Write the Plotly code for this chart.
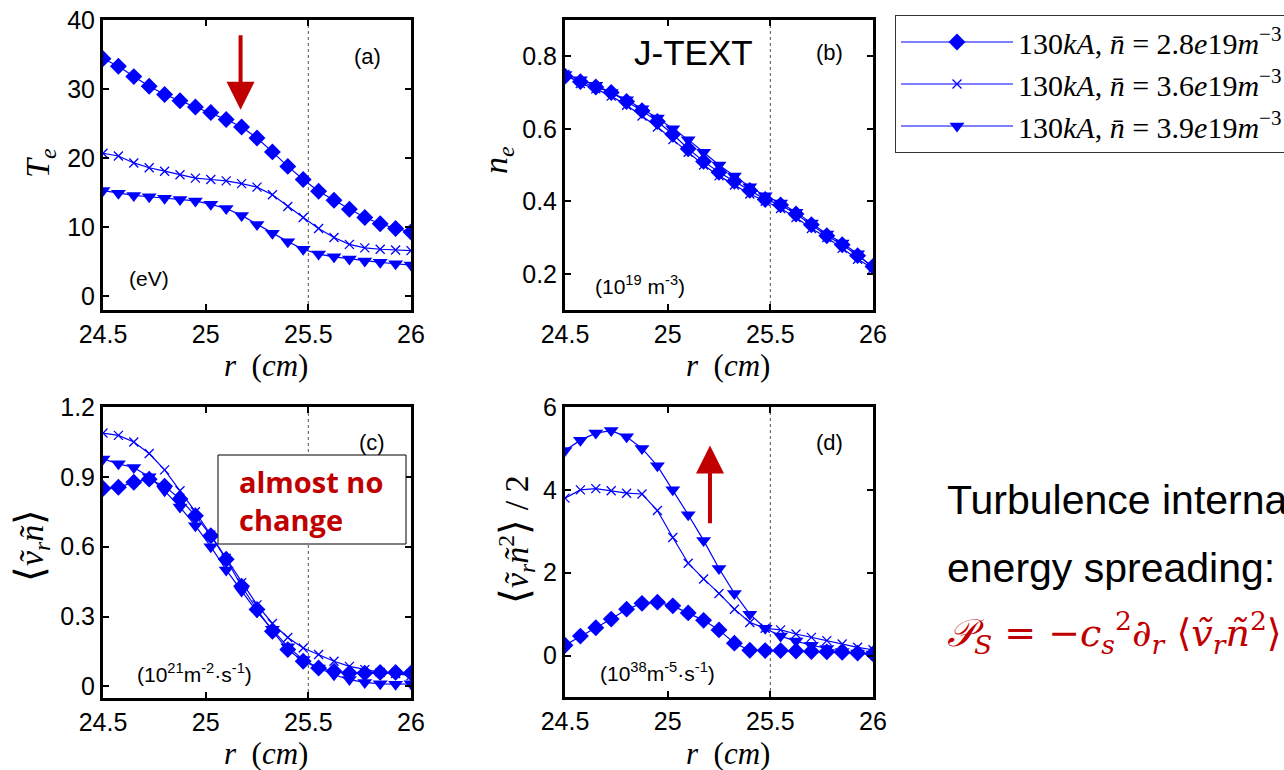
import plotly.graph_objects as go

W, H = 1284, 770

# ---------------- data ----------------
r = [24.5, 24.575, 24.65, 24.725, 24.8, 24.875, 24.95, 25.025, 25.1, 25.175, 25.25,
     25.325, 25.4, 25.475, 25.55, 25.625, 25.7, 25.775, 25.85, 25.925, 26.0]

series_names = ["130<i>kA</i>, <i>n̄</i> = 2.8<i>e</i>19<i>m</i><sup>−3</sup>",
                "130<i>kA</i>, <i>n̄</i> = 3.6<i>e</i>19<i>m</i><sup>−3</sup>",
                "130<i>kA</i>, <i>n̄</i> = 3.9<i>e</i>19<i>m</i><sup>−3</sup>"]

# (a) Te (eV)
te_28 = [34.4, 33.3, 31.8, 30.4, 29.2, 28.3, 27.4, 26.6, 25.6, 24.5, 22.9,
         20.9, 18.8, 16.9, 15.2, 13.9, 12.6, 11.4, 10.5, 9.8, 9.3]
te_36 = [20.7, 20.3, 19.3, 18.6, 18.1, 17.6, 17.1, 16.9, 16.7, 16.3, 15.8,
         14.7, 13.0, 11.4, 9.8, 8.5, 7.5, 7.0, 6.8, 6.7, 6.6]
te_39 = [15.3, 14.9, 14.6, 14.4, 14.2, 14.0, 13.8, 13.3, 12.7, 11.7, 10.4,
         9.1, 7.9, 6.8, 6.1, 5.7, 5.4, 5.1, 4.9, 4.7, 4.5]

# (b) ne (1e19 m^-3)
ne_28 = [0.745, 0.73, 0.715, 0.70, 0.675, 0.65, 0.62, 0.585, 0.545, 0.51, 0.48,
         0.455, 0.43, 0.405, 0.39, 0.365, 0.335, 0.305, 0.28, 0.25, 0.22]
ne_36 = [0.75, 0.725, 0.71, 0.69, 0.665, 0.635, 0.605, 0.57, 0.535, 0.50, 0.47,
         0.445, 0.42, 0.40, 0.38, 0.355, 0.325, 0.30, 0.27, 0.24, 0.215]
ne_39 = [0.75, 0.735, 0.72, 0.70, 0.68, 0.655, 0.63, 0.60, 0.57, 0.535, 0.50,
         0.47, 0.44, 0.415, 0.395, 0.37, 0.34, 0.31, 0.285, 0.255, 0.215]

# (c) <v n> (1e21 m^-2 s^-1)
vn_28 = [0.85, 0.855, 0.877, 0.89, 0.86, 0.805, 0.733, 0.647, 0.546, 0.43, 0.33,
         0.237, 0.158, 0.108, 0.079, 0.065, 0.057, 0.057, 0.06, 0.06, 0.057]
vn_36 = [1.088, 1.078, 1.05, 1.0, 0.93, 0.84, 0.75, 0.65, 0.55, 0.445, 0.35,
         0.27, 0.21, 0.165, 0.137, 0.108, 0.086, 0.072, 0.06, 0.055, 0.046]
vn_39 = [0.977, 0.956, 0.94, 0.90, 0.84, 0.77, 0.69, 0.60, 0.50, 0.41, 0.32,
         0.245, 0.17, 0.115, 0.079, 0.05, 0.029, 0.017, 0.011, 0.009, 0.011]

# (d) <v n^2>/2 (1e38 m^-5 s^-1)
vn2_28 = [0.25, 0.47, 0.67, 0.88, 1.12, 1.26, 1.29, 1.2, 1.03, 0.85, 0.62,
          0.3, 0.13, 0.12, 0.12, 0.11, 0.1, 0.09, 0.08, 0.06, 0.04]
vn2_36 = [3.8, 4.0, 4.03, 3.98, 3.92, 3.9, 3.5, 2.85, 2.23, 1.85, 1.5,
          1.12, 0.8, 0.66, 0.62, 0.52, 0.44, 0.36, 0.28, 0.2, 0.14]
vn2_39 = [4.95, 5.2, 5.37, 5.43, 5.28, 5.0, 4.58, 4.0, 3.4, 2.78, 2.1,
          1.5, 1.0, 0.66, 0.47, 0.35, 0.25, 0.17, 0.1, 0.06, 0.04]

panels = [
    ("x", "y", [te_28, te_36, te_39]),
    ("x2", "y2", [ne_28, ne_36, ne_39]),
    ("x3", "y3", [vn_28, vn_36, vn_39]),
    ("x4", "y4", [vn2_28, vn2_36, vn2_39]),
]

x_ticks = [24.5, 25, 25.5, 26]
x_ticktext = ["24.5", "25", "25.5", "26"]
y_ticks = [[0, 10, 20, 30, 40], [0.2, 0.4, 0.6, 0.8], [0, 0.3, 0.6, 0.9, 1.2], [0, 2, 4, 6]]
y_ticktext = [["0", "10", "20", "30", "40"], ["0.2", "0.4", "0.6", "0.8"],
              ["0", "0.3", "0.6", "0.9", "1.2"], ["0", "2", "4", "6"]]
y_ranges = [[-2, 40], [0.1, 0.9], [-0.05, 1.2], [-1, 6]]
x_range = [24.5, 26]
r_sep = 25.5

# ---------------- styles ----------------
BLUE = "#0000FF"
RED = "#C00000"
markers = [
    dict(symbol="diamond", size=13, color=BLUE, line=dict(width=0)),
    dict(symbol="x-thin", size=9, color=BLUE, line=dict(width=1.3, color=BLUE)),
    dict(symbol="triangle-down", size=13, color=BLUE, line=dict(width=0)),
]

fig = go.Figure()
for pi, (xa, ya, ys) in enumerate(panels):
    for si in range(3):
        fig.add_trace(go.Scatter(
            x=r, y=ys[si], xaxis=xa, yaxis=ya, mode="lines+markers",
            name=series_names[si], legendgroup=f"g{si}", showlegend=(pi == 0),
            line=dict(color=BLUE, width=1.2), marker=markers[si],
        ))

def px_x(p):
    return p / W

def px_y(p):
    return 1 - p / H

# panel boxes in pixels: (left, right, top, bottom)
boxes = [(103, 411, 20, 310), (565, 873, 20, 310), (103, 411, 407, 698), (565, 873, 407, 697)]

tickfont = dict(family="Liberation Sans, Arial, sans-serif", size=25, color="black")
axis_common = dict(showline=True, linewidth=3, linecolor="black", mirror="ticks",
                   ticks="inside", ticklen=6, tickwidth=1.5, tickcolor="black",
                   showgrid=False, zeroline=False, tickfont=tickfont, automargin=False)

lay = {}
names_x = ["xaxis", "xaxis2", "xaxis3", "xaxis4"]
names_y = ["yaxis", "yaxis2", "yaxis3", "yaxis4"]
anchors_x = ["y", "y2", "y3", "y4"]
anchors_y = ["x", "x2", "x3", "x4"]
for i, (l, rr, t, b) in enumerate(boxes):
    lay[names_x[i]] = dict(domain=[px_x(l), px_x(rr)], range=x_range, anchor=anchors_x[i],
                           tickvals=x_ticks, ticktext=x_ticktext, **axis_common)
    lay[names_y[i]] = dict(domain=[px_y(b), px_y(t)], range=y_ranges[i], anchor=anchors_y[i],
                           tickvals=y_ticks[i], ticktext=y_ticktext[i], **axis_common)

fig.update_layout(**lay)

# dotted separator lines at r = 25.5
shapes = []
for i in range(4):
    xr = "x" if i == 0 else f"x{i+1}"
    yr = "y" if i == 0 else f"y{i+1}"
    shapes.append(dict(type="line", xref=xr, yref=f"{yr} domain", x0=r_sep, x1=r_sep, y0=0, y1=1,
                       line=dict(color="#555555", width=1, dash="dot"), layer="below"))

# "almost no change" box in panel (c)
shapes.append(dict(type="rect", xref="paper", yref="paper",
                   x0=px_x(218), x1=px_x(406), y0=px_y(544), y1=px_y(455),
                   line=dict(color="black", width=1), fillcolor="white", layer="above"))

annotations = []

def ann(x, y, text, size, family="Liberation Sans, Arial, sans-serif", color="black",
        xanchor="center", yanchor="middle", angle=0, **kw):
    annotations.append(dict(x=px_x(x), y=px_y(y), xref="paper", yref="paper", text=text,
                            showarrow=False, xanchor=xanchor, yanchor=yanchor, textangle=angle,
                            font=dict(family=family, size=size, color=color), **kw))

SERIF = "Liberation Serif, DejaVu Serif, serif"
LB = "<span style=\"font-family:'DejaVu Sans';font-weight:200;font-size:40px\">⟨</span>"
RB = "<span style=\"font-family:'DejaVu Sans';font-weight:200;font-size:40px\">⟩</span>"

# axis titles
for cx, cy in [(266, 365), (728, 365), (266, 753), (728, 753)]:
    ann(cx, cy, "<i>r</i>  (<i>cm</i>)", 31, family=SERIF)
ann(40, 163, "<i>T</i><sub><i>e</i></sub>", 34, family=SERIF, angle=-90)
ann(498, 160, "<i>n</i><sub><i>e</i></sub>", 34, family=SERIF, angle=-90)
ann(30, 546, LB + "<i>ṽ</i><sub><i>r</i></sub><i>ñ</i>" + RB, 34, family=SERIF, angle=-90)
ann(515, 540, LB + "<i>ṽ</i><sub><i>r</i></sub><i>ñ</i><sup>2</sup>" + RB + " / 2", 34,
    family=SERIF, angle=-90)

# panel labels
ann(367, 57, "(a)", 22)
ann(829, 53, "(b)", 22)
ann(372, 442, "(c)", 22)
ann(829, 442, "(d)", 22)

# unit labels
ann(149, 278, "(eV)", 21)
ann(640, 285, "(10<sup>19</sup> m<sup>-3</sup>)", 21)
ann(194, 673, "(10<sup>21</sup>m<sup>-2</sup>·s<sup>-1</sup>)", 21)
ann(657, 672, "(10<sup>38</sup>m<sup>-5</sup>·s<sup>-1</sup>)", 21)

# J-TEXT
ann(693, 52, "J-TEXT", 35)

# almost no change
ann(237, 500, "<b>almost no<br>change</b>", 29, family="Open Sans, Noto Sans, sans-serif",
    color=RED, xanchor="left", align="left")

# right-hand text
ann(945, 500, "Turbulence internal", 41, xanchor="left")
ann(945, 568, "energy spreading:", 41, xanchor="left")
ann(945, 632, "<i>𝒫</i><sub><i>S</i></sub> = −<i>c</i><sub><i>s</i></sub><sup>2</sup>∂<sub><i>r</i></sub> ⟨<i>ṽ</i><sub><i>r</i></sub><i>ñ</i><sup>2</sup>⟩",
    38, family="DejaVu Serif, Liberation Serif, serif", color=RED, xanchor="left")

# arrows
annotations.append(dict(x=25.17, y=27, ax=25.17, ay=38, xref="x", yref="y", axref="x", ayref="y",
                        showarrow=True, arrowhead=2, arrowsize=1.4, arrowwidth=4, arrowcolor=RED,
                        text=""))
annotations.append(dict(x=25.206, y=5.07, ax=25.206, ay=3.16, xref="x4", yref="y4", axref="x4", ayref="y4",
                        showarrow=True, arrowhead=2, arrowsize=1.4, arrowwidth=4, arrowcolor=RED,
                        text=""))

fig.update_layout(
    width=W, height=H, margin=dict(l=0, r=0, t=0, b=0, autoexpand=False),
    paper_bgcolor="white", plot_bgcolor="white",
    shapes=shapes, annotations=annotations,
    showlegend=True,
    legend=dict(x=px_x(895), y=px_y(15), xref="container", yref="container",
                xanchor="left", yanchor="top",
                bgcolor="white", bordercolor="#333333", borderwidth=1,
                font=dict(family=SERIF, size=30, color="black"),
                itemwidth=112, tracegroupgap=0),
)

fig.write_html("out.html")
